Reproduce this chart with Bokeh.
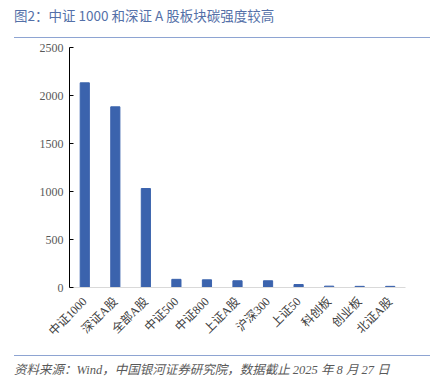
from bokeh.plotting import figure
from bokeh.models import Div, FactorRange, Range1d, FixedTicker
from bokeh.layouts import column
from bokeh.embed import file_html
from bokeh.resources import INLINE
import math

categories = ["中证1000", "深证A股", "全部A股", "中证500", "中证800", "上证A股",
              "沪深300", "上证50", "科创板", "创业板", "北证A股"]
values = [2132, 1882, 1031, 85, 80, 70, 70, 31, 14, 12, 12]
y_ticks = [0, 500, 1000, 1500, 2000, 2500]

title_text = "图2：中证 1000 和深证 A 股板块碳强度较高"
source_text = "资料来源：Wind，中国银河证券研究院，数据截止 2025 年 8 月 27 日"

title_div = Div(
    text=title_text, width=416, height=38, margin=(0, 0, 0, 14),
    styles={"font-family": "'Noto Sans CJK SC'", "font-size": "13.5px",
            "color": "#5470a8", "border-bottom": "1.5px solid #8ea4d2",
            "box-sizing": "border-box", "padding-top": "8px", "line-height": "15px"},
)

p = figure(
    x_range=FactorRange(*categories, range_padding=0),
    y_range=Range1d(0, 2500),
    width=426, height=317,
    output_backend="svg", toolbar_location=None,
    min_border_left=69, min_border_right=21, min_border_top=9, min_border_bottom=68,
)
p.vbar(x=categories, top=values, width=0.3, color="#3b63ad")

p.outline_line_color = None
p.xgrid.grid_line_color = None
p.ygrid.grid_line_color = None

p.yaxis.ticker = FixedTicker(ticks=y_ticks)
p.yaxis.axis_line_color = "#000000"
p.yaxis.major_tick_in = 4
p.yaxis.major_tick_out = 0
p.yaxis.minor_tick_line_color = None
p.yaxis.major_tick_line_color = "#000000"
p.yaxis.major_label_text_font = "'Liberation Serif'"
p.yaxis.major_label_text_font_size = "12px"
p.yaxis.major_label_text_color = "#595959"
p.yaxis.major_label_standoff = 6

p.xaxis.axis_line_color = "#d9d9d9"
p.xaxis.major_tick_line_color = None
p.xaxis.minor_tick_line_color = None
p.xaxis.major_label_orientation = math.pi / 4
p.xaxis.major_label_text_font = "'Liberation Serif', 'Noto Sans CJK SC'"
p.xaxis.major_label_text_font_size = "12px"
p.xaxis.major_label_text_color = "#404040"
p.xaxis.major_label_standoff = 6

foot_div = Div(
    text=source_text, width=416, height=30, margin=(0, 0, 0, 14),
    styles={"font-family": "'Liberation Serif', 'Noto Sans CJK SC'", "font-size": "12.5px",
            "font-style": "italic", "color": "#595959",
            "border-top": "1.5px solid #8ea4d2", "box-sizing": "border-box",
            "padding-top": "6px"},
)

layout = column(title_div, p, foot_div, spacing=0)
open("out.html", "w").write(file_html(layout, INLINE))
